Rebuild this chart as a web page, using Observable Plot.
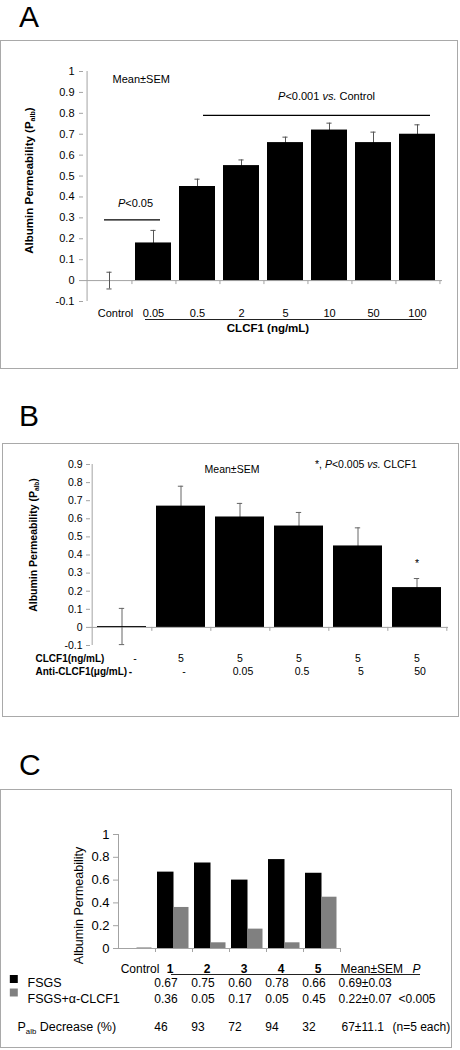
<!DOCTYPE html>
<html>
<head>
<meta charset="utf-8">
<script src="https://cdn.jsdelivr.net/npm/d3@7"></script>
<script src="https://cdn.jsdelivr.net/npm/@observablehq/plot@0.6"></script>
<style>
  body { margin: 0; background: #fff; font-family: "Liberation Sans", Arial, sans-serif; }
  #page { position: relative; width: 460px; height: 1050px; overflow: hidden; background: #fff; }
  .letter { position: absolute; left: 19px; font-size: 30px; line-height: 30px; color: #000; }
  .box { position: absolute; border: 1px solid #a9a9a9; box-sizing: border-box; pointer-events: none; }
</style>
</head>
<body>
<div id="page"></div>
<script>
// ---------- DATA ----------
// Panel A
const catsA = ["Control", "0.05", "0.5", "2", "5", "10", "50", "100"];
const valuesA = [0, 0.18, 0.45, 0.55, 0.66, 0.72, 0.66, 0.70];
const semA = [0.04, 0.06, 0.035, 0.027, 0.026, 0.033, 0.05, 0.045];
const yTicksA = [-0.1, 0, 0.1, 0.2, 0.3, 0.4, 0.5, 0.6, 0.7, 0.8, 0.9, 1];
const xTitleA = "CLCF1 (ng/mL)";
const yTitleA = "Albumin Permeability (P{s:alb})";

// Panel B
const catsB = ["ctrl", "c5", "c5a0.05", "c5a0.5", "c5a5", "c5a50"];
const clcf1B = ["-", "5", "5", "5", "5", "5"];
const antiB = ["-", "-", "0.05", "0.5", "5", "50"];
const valuesB = [0.005, 0.67, 0.61, 0.56, 0.45, 0.22];
const semB = [0.1, 0.11, 0.075, 0.075, 0.10, 0.05];
const yTicksB = [-0.1, 0, 0.1, 0.2, 0.3, 0.4, 0.5, 0.6, 0.7, 0.8, 0.9];
const rowTitlesB = ["CLCF1(ng/mL)", "Anti-CLCF1(μg/mL)"];
const yTitleB = "Albumin Permeability (P{s:alb})";

// Panel C
const catsC = ["Control", "1", "2", "3", "4", "5"];
const fsgsC = [0, 0.67, 0.75, 0.60, 0.78, 0.66];
const antiC = [0.005, 0.36, 0.05, 0.17, 0.05, 0.45];
const decreaseC = [46, 93, 72, 94, 32];
const seriesC = ["FSGS", "FSGS+α-CLCF1"];
const statsC = {header: "Mean±SEM", fsgs: "0.69±0.03", anti: "0.22±0.07", p: "<0.005", decrease: "67±11.1", n: "(n=5 each)"};
const yTicksC = [0, 0.2, 0.4, 0.6, 0.8, 1];
const yTitleC = "Albumin Permeability";

// ---------- HELPERS ----------
const FONT = '"Liberation Sans", Arial, sans-serif';
const AXIS = "#a3a3a3";
const page = document.getElementById("page");
const fmt = d => String(Math.round(d * 10) / 10);
const LA = "middle";

function addLetter(ch, top) {
  const el = document.createElement("div");
  el.className = "letter";
  el.style.top = top + "px";
  el.textContent = ch;
  page.appendChild(el);
}
function addBox(left, top, w, h) {
  const el = document.createElement("div");
  el.className = "box";
  Object.assign(el.style, {left: left + "px", top: top + "px", width: w + "px", height: h + "px"});
  page.appendChild(el);
}
function addPlot(svg, left, top) {
  svg.style.position = "absolute";
  svg.style.left = left + "px";
  svg.style.top = top + "px";
  svg.style.maxWidth = "none";
  page.appendChild(svg);
  richify(svg);
}
// {i:..} -> italic, {s:..} -> subscript
function richify(svg) {
  const ns = "http://www.w3.org/2000/svg";
  svg.querySelectorAll("text").forEach(node => {
    const t = node.textContent;
    if (!/\{[is]:/.test(t)) return;
    while (node.firstChild) node.removeChild(node.firstChild);
    const re = /\{([is]):([^}]*)\}/g;
    let last = 0, m, up = false;
    const add = s => {
      const ts = document.createElementNS(ns, "tspan");
      ts.textContent = s;
      if (up) { ts.setAttribute("dy", "-0.2em"); up = false; }
      node.appendChild(ts);
      return ts;
    };
    while ((m = re.exec(t))) {
      if (m.index > last) add(t.slice(last, m.index));
      const ts = add(m[2]);
      if (m[1] === "i") ts.setAttribute("font-style", "italic");
      else { ts.style.fontSize = "62%"; ts.setAttribute("dy", "0.32em"); up = true; }
      last = re.lastIndex;
    }
    if (last < t.length) add(t.slice(last));
  });
}

// ---------- PANEL A ----------
addLetter("A", 2);
{
  const W = 458, H = 329, m = {top: 31, right: 16, bottom: 68, left: 83};
  const bw = (W - m.left - m.right) / catsA.length;
  const cap = (bw - 6) / 2;
  const data = catsA.map((c, i) => ({cat: c, v: valuesA[i], e: semA[i]}));
  const svg = Plot.plot({
    width: W, height: H,
    marginTop: m.top, marginRight: m.right, marginBottom: m.bottom, marginLeft: m.left,
    style: {fontFamily: FONT, fontSize: "11px", background: "transparent", color: "black"},
    x: {type: "band", domain: catsA, padding: 0, axis: null},
    y: {domain: [-0.1, 1], axis: null},
    marks: [
      Plot.ruleY([0], {stroke: AXIS}),
      Plot.ruleX([catsA[0]], {x: d => d, dx: -bw / 2, y1: -0.1, y2: 1, stroke: AXIS}),
      Plot.ruleX(catsA, {x: d => d, dx: bw / 2, y1: 0, y2: 0, insetBottom: -4, stroke: AXIS}),
      Plot.axisY({ticks: yTicksA, tickFormat: fmt, tickSize: 4, tickPadding: 5, stroke: AXIS, fill: "black", label: null}),
      Plot.ruleX(data, {x: "cat", y1: d => d.v - d.e, y2: d => d.v + d.e, stroke: "#555"}),
      Plot.tickY(data, {x: "cat", y: d => d.v + d.e, stroke: "#555", insetLeft: cap, insetRight: cap}),
      Plot.tickY(data, {x: "cat", y: d => d.v - d.e, stroke: "#555", insetLeft: cap, insetRight: cap}),
      Plot.barY(data, {x: "cat", y: "v", fill: "black", insetLeft: 4, insetRight: 4}),
      Plot.text([catsA[0]], {x: d => d, text: d => d, frameAnchor: "bottom", lineAnchor: LA, dy: 12, dx: 6}),
      Plot.text(catsA.slice(1), {x: d => d, text: d => d, frameAnchor: "bottom", lineAnchor: LA, dy: 12}),
      Plot.ruleY([-0.1], {x1: () => catsA[1], x2: () => catsA[7], dy: 18, insetLeft: 14, insetRight: 17, stroke: "#222"}),
      Plot.text([xTitleA], {text: d => d, frameAnchor: "bottom", lineAnchor: LA, dy: 27, dx: 5, fontWeight: "bold", fontSize: 11.5}),
      Plot.text([yTitleA], {text: d => d, frameAnchor: "left", textAnchor: "middle", lineAnchor: LA, rotate: -90, dx: -54, dy: -6, fontWeight: "bold", fontSize: 11.5}),
      Plot.text(["Mean±SEM"], {text: d => d, x: () => catsA[0], y: () => 0.96, textAnchor: "start", dx: 3}),
      Plot.ruleY([0.29], {x1: () => catsA[0], x2: () => catsA[1], insetLeft: 17, insetRight: 15, stroke: "black", strokeWidth: 1.3}),
      Plot.text(["{i:P}<0.05"], {text: d => d, x: () => catsA[1], y: () => 0.368, dx: -18}),
      Plot.ruleY([0.79], {x1: () => catsA[2], x2: () => catsA[7], insetLeft: 28, insetRight: 9, stroke: "black", strokeWidth: 1.3}),
      Plot.text(["{i:P}<0.001 {i:vs.} Control"], {text: d => d, x: () => catsA[5], y: () => 0.88, dx: -3})
    ]
  });
  addPlot(svg, 0, 40);
  addBox(0, 40, 458, 329);
}

// ---------- PANEL B ----------
addLetter("B", 401);
{
  const W = 457, H = 274, m = {top: 21, right: 11, bottom: 72, left: 88};
  const bw = (W - m.left - m.right) / catsB.length;
  const cap = (bw - 6) / 2;
  const data = catsB.map((c, i) => ({cat: c, v: valuesB[i], e: semB[i]}));
  const svg = Plot.plot({
    width: W, height: H,
    marginTop: m.top, marginRight: m.right, marginBottom: m.bottom, marginLeft: m.left,
    style: {fontFamily: FONT, fontSize: "10.5px", background: "transparent", color: "black"},
    x: {type: "band", domain: catsB, padding: 0, axis: null},
    y: {domain: [-0.1, 0.9], axis: null},
    marks: [
      Plot.ruleY([0], {stroke: AXIS}),
      Plot.ruleX([catsB[0]], {x: d => d, dx: -bw / 2, y1: -0.1, y2: 0.9, stroke: AXIS}),
      Plot.ruleX(catsB, {x: d => d, dx: bw / 2, y1: 0, y2: 0, insetBottom: -4, stroke: AXIS}),
      Plot.axisY({ticks: yTicksB, tickFormat: fmt, tickSize: 4, tickPadding: 4, stroke: AXIS, fill: "black", label: null}),
      Plot.ruleX(data, {x: "cat", y1: d => d.v - d.e, y2: d => d.v + d.e, stroke: "#666"}),
      Plot.tickY(data, {x: "cat", y: d => d.v + d.e, stroke: "#666", insetLeft: cap, insetRight: cap}),
      Plot.tickY(data, {x: "cat", y: d => d.v - d.e, stroke: "#666", insetLeft: cap, insetRight: cap}),
      Plot.barY(data, {x: "cat", y: "v", fill: "black", insetLeft: 5, insetRight: 5}),
      Plot.text(["*"], {text: d => d, x: () => catsB[5], y: () => 0.355}),
      // row titles
      Plot.text([rowTitlesB[0]], {text: d => d, frameAnchor: "bottom-left", lineAnchor: LA, dx: -55, dy: 13, textAnchor: "start", fontWeight: "bold", fontSize: 10}),
      Plot.text([rowTitlesB[1]], {text: d => d, frameAnchor: "bottom-left", lineAnchor: LA, dx: -55, dy: 26, textAnchor: "start", fontWeight: "bold", fontSize: 10}),
      // row values
      Plot.text([clcf1B[0]], {text: d => d, x: () => catsB[0], frameAnchor: "bottom", lineAnchor: LA, dy: 13, dx: 13}),
      Plot.text(catsB.slice(1), {x: d => d, text: (d, i) => clcf1B[i + 1], frameAnchor: "bottom", lineAnchor: LA, dy: 13}),
      Plot.text([antiB[0]], {text: d => d, x: () => catsB[0], frameAnchor: "bottom", lineAnchor: LA, dy: 26, dx: 8.5, fontWeight: "bold", fontSize: 10}),
      Plot.text(catsB.slice(1), {x: d => d, text: (d, i) => antiB[i + 1], frameAnchor: "bottom", lineAnchor: LA, dy: 26, dx: 3}),
      Plot.text([yTitleB], {text: d => d, frameAnchor: "left", textAnchor: "middle", lineAnchor: LA, rotate: -90, dx: -57, dy: -10, fontWeight: "bold", fontSize: 10.5}),
      Plot.text(["Mean±SEM"], {text: d => d, x: () => catsB[2], y: () => 0.874, dx: -8}),
      Plot.text(["*, {i:P}<0.005 {i:vs.} CLCF1"], {text: d => d, x: () => catsB[4], y: () => 0.9, textAnchor: "start", dx: -43})
    ]
  });
  addPlot(svg, 2, 443);
  addBox(2, 443, 457, 274);
}

// ---------- PANEL C ----------
addLetter("C", 750);
{
  const W = 452, H = 259, m = {top: 45, right: 112, bottom: 100, left: 118};
  const bw = (W - m.left - m.right) / catsC.length;
  const data = catsC.map((c, i) => ({cat: c, a: fsgsC[i], b: antiC[i]}));
  const GRAY = "#808080";
  const rowH = 20.7, row1 = 34.2, row2 = 50.7, row3 = 78.7;
  const T = (o) => Object.assign({frameAnchor: "bottom", lineAnchor: LA}, o);
  const svg = Plot.plot({
    width: W, height: H,
    marginTop: m.top, marginRight: m.right, marginBottom: m.bottom, marginLeft: m.left,
    style: {fontFamily: FONT, fontSize: "12px", background: "transparent", color: "black"},
    x: {type: "band", domain: catsC, padding: 0, axis: null},
    y: {domain: [0, 1], axis: null},
    marks: [
      Plot.ruleY([0], {stroke: AXIS}),
      Plot.ruleX([catsC[0]], {x: d => d, dx: -bw / 2, y1: 0, y2: 1, stroke: AXIS}),
      Plot.ruleX(catsC, {x: d => d, dx: bw / 2, y1: 0, y2: 0, insetBottom: -4, stroke: AXIS}),
      Plot.axisY({ticks: yTicksC, tickFormat: fmt, tickSize: 5, tickPadding: 4, stroke: AXIS, fill: "black", label: null, fontSize: 13}),
      Plot.barY(data, {x: "cat", y: "a", fill: "black", insetLeft: 2, insetRight: bw / 2}),
      Plot.barY(data, {x: "cat", y: "b", fill: GRAY, insetLeft: bw / 2, insetRight: 3.5}),
      Plot.text([yTitleC], {text: d => d, frameAnchor: "left", textAnchor: "middle", lineAnchor: LA, rotate: -90, dx: -40, dy: 14, fontSize: 12.5}),
      // table header
      Plot.text([catsC[0]], T({text: d => d, x: () => catsC[0], dy: rowH, dx: 3})),
      Plot.text(catsC.slice(1), T({x: d => d, text: d => d, dy: rowH, dx: -4, fontWeight: "bold"})),
      Plot.text([statsC.header], T({text: d => d, x: () => catsC[5], dy: rowH, dx: 18.5, textAnchor: "start"})),
      Plot.text(["P"], T({text: d => d, x: () => catsC[5], dy: rowH, dx: 94.5, fontStyle: "italic"})),
      Plot.ruleY([0], {x1: () => catsC[1], x2: () => catsC[5], dy: 26, insetLeft: 16, insetRight: -80, stroke: "#222"}),
      // legend
      Plot.dot([seriesC[0]], {frameAnchor: "bottom-left", dx: -104.7, dy: 30.5, symbol: "square", r: 4.5, fill: "black", stroke: null}),
      Plot.dot([seriesC[1]], {frameAnchor: "bottom-left", dx: -104.7, dy: 44, symbol: "square", r: 4.5, fill: GRAY, stroke: null}),
      Plot.text([seriesC[0]], T({text: d => d, frameAnchor: "bottom-left", dx: -91, dy: row1, textAnchor: "start", fontSize: 12.5})),
      Plot.text([seriesC[1]], T({text: d => d, frameAnchor: "bottom-left", dx: -91, dy: row2, textAnchor: "start", fontSize: 12.5})),
      // rows
      Plot.text(catsC.slice(1), T({x: d => d, text: (d, i) => fsgsC[i + 1].toFixed(2), dy: row1, dx: -8})),
      Plot.text(catsC.slice(1), T({x: d => d, text: (d, i) => antiC[i + 1].toFixed(2), dy: row2, dx: -8})),
      Plot.text([statsC.fsgs], T({text: d => d, x: () => catsC[5], dy: row1, dx: 16.5, textAnchor: "start"})),
      Plot.text([statsC.anti], T({text: d => d, x: () => catsC[5], dy: row2, dx: 16.5, textAnchor: "start"})),
      Plot.text([statsC.p], T({text: d => d, x: () => catsC[5], dy: row2, dx: 76.5, textAnchor: "start"})),
      Plot.text(["P{s:alb} Decrease (%)"], T({text: d => d, frameAnchor: "bottom-left", dx: -101, dy: row3, textAnchor: "start", fontSize: 12.5})),
      Plot.text(catsC.slice(1), T({x: d => d, text: (d, i) => String(decreaseC[i]), dy: row3, dx: -13})),
      Plot.text([statsC.decrease], T({text: d => d, x: () => catsC[5], dy: row3, dx: 19.5, textAnchor: "start"})),
      Plot.text([statsC.n], T({text: d => d, x: () => catsC[5], dy: row3, dx: 70.5, textAnchor: "start"}))
    ]
  });
  addPlot(svg, 0, 789);
  addBox(0, 789, 452, 259);
}
</script>
</body>
</html>
